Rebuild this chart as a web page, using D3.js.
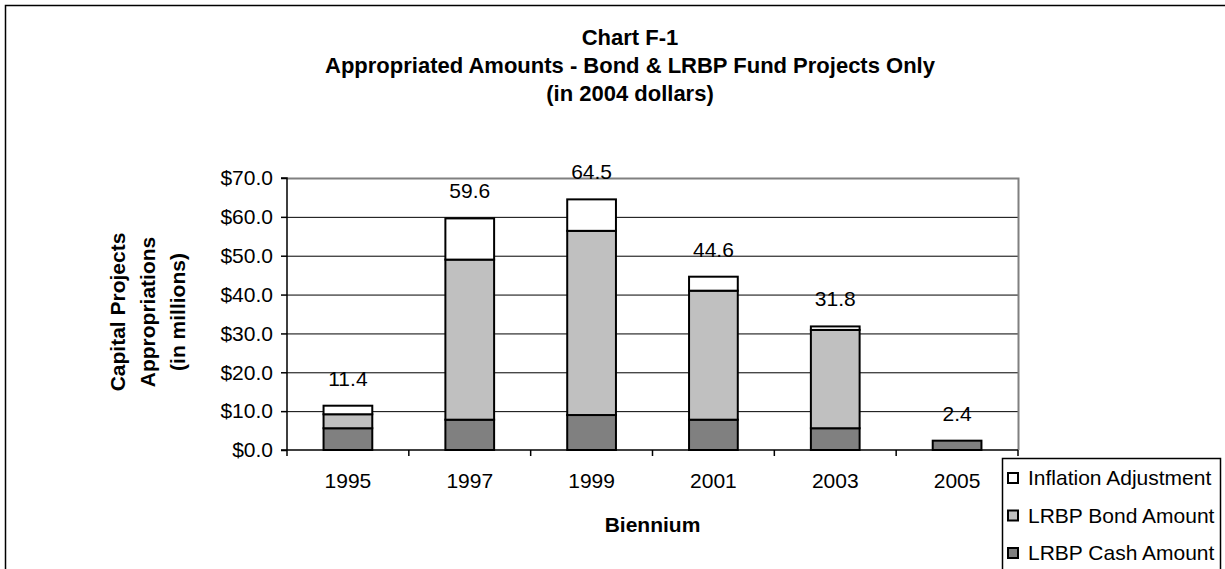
<!DOCTYPE html>
<html>
<head>
<meta charset="utf-8">
<script src="https://cdn.jsdelivr.net/npm/d3@7"></script>
<style>
  body { margin: 0; background: #fff; }
  text { font-family: "Liberation Sans", Arial, sans-serif; fill: #000; }
</style>
</head>
<body>
<div id="chart"></div>
<script>
var years = ["1995", "1997", "1999", "2001", "2003", "2005"];
var cashAmount = [5.6, 7.8, 9.0, 7.8, 5.6, 2.4];
var bondAmount = [3.6, 41.2, 47.4, 33.2, 25.3, 0];
var inflationAdj = [2.2, 10.6, 8.1, 3.6, 0.9, 0];
var totals = [11.4, 59.6, 64.5, 44.6, 31.8, 2.4];
var seriesNames = ["LRBP Cash Amount", "LRBP Bond Amount", "Inflation Adjustment"];
var yTicks = [0, 10, 20, 30, 40, 50, 60, 70];

var width = 1225, height = 569,
    plot = {left: 287, right: 1018, top: 178, bottom: 450},
    fontSize = "21px";

var colours = {"LRBP Cash Amount": "#808080", "LRBP Bond Amount": "#c0c0c0", "Inflation Adjustment": "#ffffff"};

var rows = years.map(function(y, i) {
  return {year: y, "LRBP Cash Amount": cashAmount[i], "LRBP Bond Amount": bondAmount[i],
          "Inflation Adjustment": inflationAdj[i], total: totals[i]};
});

var svg = d3.select("#chart").append("svg")
  .attr("width", width)
  .attr("height", height);

// outer chart border (runs off the right / bottom edge)
svg.append("rect")
  .attr("x", 5.5).attr("y", 5.5)
  .attr("width", 1300).attr("height", 700)
  .attr("fill", "none").attr("stroke", "#000").attr("stroke-width", 1.5);

var x = d3.scaleBand()
  .domain(years)
  .range([plot.left, plot.right])
  .paddingInner(0.6)
  .paddingOuter(0.3);

var y = d3.scaleLinear()
  .domain([0, 70])
  .range([plot.bottom, plot.top]);

// gridlines
svg.append("g").selectAll("line")
  .data(yTicks.slice(1, -1))
  .enter().append("line")
  .attr("x1", plot.left).attr("x2", plot.right)
  .attr("y1", function(d) { return y(d) + 0.5; })
  .attr("y2", function(d) { return y(d) + 0.5; })
  .attr("stroke", "#000").attr("stroke-width", 1);

// plot frame top / right in grey
svg.append("path")
  .attr("d", "M" + plot.left + "," + (plot.top + 0.5) + "H" + (plot.right + 0.5) + "V" + plot.bottom)
  .attr("fill", "none").attr("stroke", "#808080").attr("stroke-width", 2);

// stacked bars
var stack = d3.stack().keys(seriesNames);
var layers = stack(rows);

svg.append("g").selectAll("g")
  .data(layers)
  .enter().append("g")
  .attr("fill", function(d) { return colours[d.key]; })
  .selectAll("rect")
  .data(function(d) { return d.filter(function(p) { return p[1] - p[0] > 0; }); })
  .enter().append("rect")
  .attr("x", function(d) { return x(d.data.year); })
  .attr("y", function(d) { return y(d[1]); })
  .attr("width", x.bandwidth())
  .attr("height", function(d) { return y(d[0]) - y(d[1]); })
  .attr("stroke", "#000")
  .attr("stroke-width", 2);

// y axis
var yAxis = d3.axisLeft(y)
  .tickValues(yTicks)
  .tickSize(6)
  .tickPadding(8)
  .tickFormat(d3.format("$.1f"));

var gy = svg.append("g")
  .attr("transform", "translate(" + plot.left + ",0)")
  .call(yAxis);
gy.selectAll("text").style("font-size", fontSize);
gy.selectAll("line, path").attr("stroke", "#000").attr("stroke-width", 1.5);
gy.select(".domain").attr("d", "M-6," + plot.top + "H0V" + plot.bottom);

// x axis baseline and category ticks
svg.append("line")
  .attr("x1", plot.left - 6).attr("x2", plot.right)
  .attr("y1", plot.bottom).attr("y2", plot.bottom)
  .attr("stroke", "#000").attr("stroke-width", 1.5);

svg.append("g").selectAll("line")
  .data(d3.range(years.length + 1))
  .enter().append("line")
  .attr("x1", function(i) { return plot.left + i * x.step(); })
  .attr("x2", function(i) { return plot.left + i * x.step(); })
  .attr("y1", plot.bottom).attr("y2", plot.bottom + 6)
  .attr("stroke", "#000").attr("stroke-width", 1.5);

svg.append("g").selectAll("text")
  .data(years)
  .enter().append("text")
  .attr("x", function(d) { return x(d) + x.bandwidth() / 2; })
  .attr("y", 488)
  .attr("text-anchor", "middle")
  .style("font-size", fontSize)
  .text(function(d) { return d; });

// total labels above each bar
svg.append("g").selectAll("text")
  .data(rows)
  .enter().append("text")
  .attr("x", function(d) { return x(d.year) + x.bandwidth() / 2; })
  .attr("y", function(d) { return y(d.total) - 20; })
  .attr("text-anchor", "middle")
  .style("font-size", fontSize)
  .text(function(d) { return d.total.toFixed(1); });

// titles
var titleLines = ["Chart F-1", "Appropriated Amounts - Bond & LRBP Fund Projects Only", "(in 2004 dollars)"];
svg.append("g").selectAll("text")
  .data(titleLines)
  .enter().append("text")
  .attr("x", 630)
  .attr("y", function(d, i) { return 45 + i * 28; })
  .attr("text-anchor", "middle")
  .style("font-size", "22px")
  .style("font-weight", "bold")
  .text(function(d) { return d; });

var yTitle = ["Capital Projects", "Appropriations", "(in millions)"];
svg.append("g").selectAll("text")
  .data(yTitle)
  .enter().append("text")
  .attr("transform", function(d, i) { return "translate(" + (125 + i * 30) + ",312) rotate(-90)"; })
  .attr("text-anchor", "middle")
  .style("font-size", fontSize)
  .style("font-weight", "bold")
  .text(function(d) { return d; });

svg.append("text")
  .attr("x", (plot.left + plot.right) / 2)
  .attr("y", 532)
  .attr("text-anchor", "middle")
  .style("font-size", fontSize)
  .style("font-weight", "bold")
  .text("Biennium");

// legend
var legendNames = seriesNames.slice().reverse();
var legend = svg.append("g").attr("transform", "translate(1002,458)");
legend.append("rect")
  .attr("x", 0.5).attr("y", 0.5)
  .attr("width", 218).attr("height", 130)
  .attr("fill", "#fff").attr("stroke", "#000").attr("stroke-width", 1.5);

var item = legend.selectAll("g.item")
  .data(legendNames)
  .enter().append("g")
  .attr("class", "item")
  .attr("transform", function(d, i) { return "translate(0," + (19 + i * 37.5) + ")"; });

item.append("rect")
  .attr("x", 6).attr("y", -4)
  .attr("width", 10).attr("height", 10)
  .attr("fill", function(d) { return colours[d]; })
  .attr("stroke", "#000").attr("stroke-width", 2);

item.append("text")
  .attr("x", 26).attr("y", 8)
  .style("font-size", fontSize)
  .text(function(d) { return d; });
</script>
</body>
</html>
